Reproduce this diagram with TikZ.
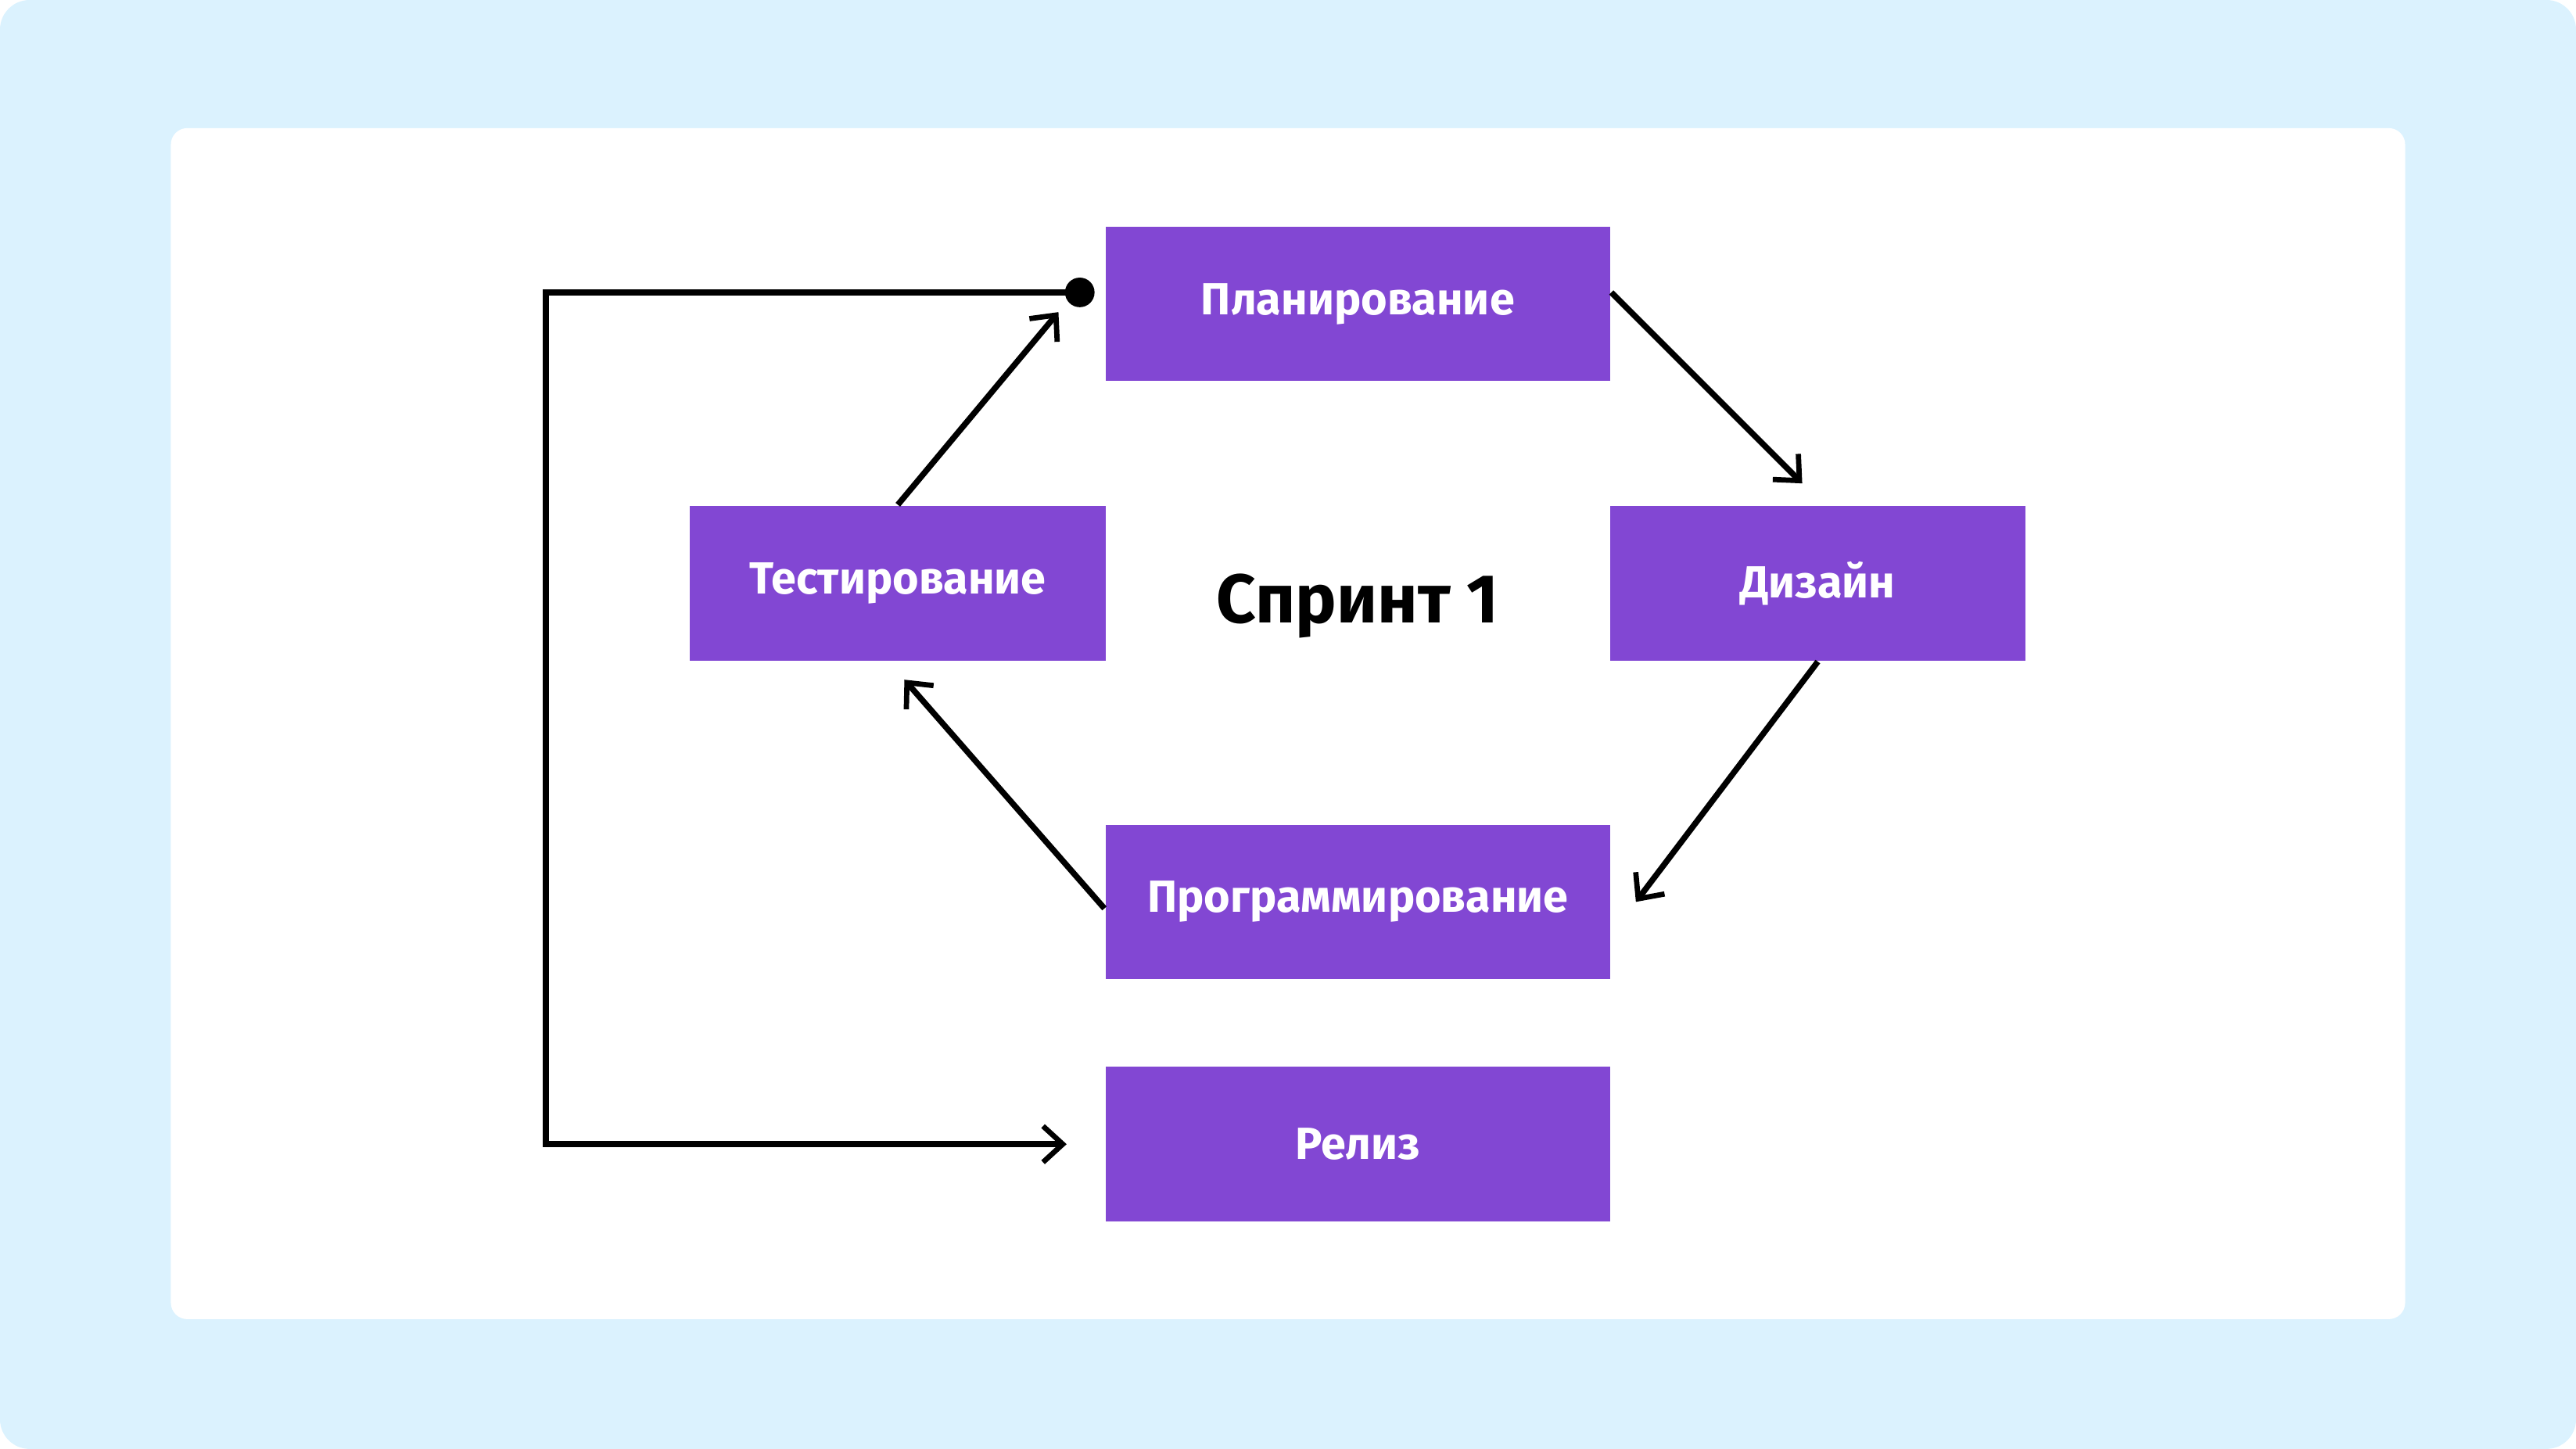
\documentclass[tikz,border=0pt]{standalone}
\usepackage{fontspec}
\setmainfont{Fira Sans}
\usetikzlibrary{arrows.meta}

\definecolor{bgblue}{RGB}{219,242,254}
\definecolor{stagepurple}{RGB}{130,71,211}

\tikzset{every picture/.style={line width=0.75pt}}
\tikzset{
  stagebox/.style={fill=stagepurple, draw=none, minimum height=47pt, inner sep=0pt,
    text=white, font=\fontsize{13.7}{16}\selectfont\bfseries},
  flowline/.style={line width=1.8pt, black, -{Straight Barb[length=6pt,width=11pt,line width=1.6pt]}},
}

\begin{document}
\begin{tikzpicture}[x=0.5pt,y=0.5pt,yscale=-1,xscale=1]
\useasboundingbox (0,0) rectangle (1568,882);

%Shape: Background
\fill[bgblue, rounded corners=9pt] (0,0) rectangle (1568,882);
%Shape: Card
\fill[white, rounded corners=5pt] (104,78) rectangle (1464,803);

% Stage nodes
\node[stagebox, minimum width=153.5pt] (plan) at (826.5,185) {Планирование};
\node[stagebox, minimum width=126.5pt] (design) at (1106.5,355) {Дизайн};
\node[stagebox, minimum width=153.5pt] (prog) at (826.5,549) {Программирование};
\node[stagebox, minimum width=126.5pt] (test) at (546.5,355) {Тестирование};
\node[stagebox, minimum width=153.5pt] (release) at (826.5,696.5) {Релиз};

% Text Node
\node[font=\fontsize{21}{25}\selectfont\bfseries] (sprint) at (826.5,369) {Спринт 1};

% Dot
\coordinate (dot) at ([xshift=-7.5pt,yshift=-3.5pt]plan.west);
\fill (dot) circle (4.5pt);

%Straight Lines
\draw[flowline] ([yshift=-3.5pt]plan.east) -- ([xshift=-4.75pt,yshift=-6.5pt]design.north);
\draw[flowline] (design.south) -- ([xshift=7.5pt]prog.east);
\draw[flowline] ([yshift=2pt]prog.west) -- ([xshift=2pt,yshift=5.5pt]test.south);
\draw[flowline] (test.north) -- ([xshift=-6.5pt,yshift=6pt]dot);
%Loop to release
\draw[flowline] (dot) -- ++(-325,0) |- ([xshift=-11.5pt]release.west);

\end{tikzpicture}
\end{document}
